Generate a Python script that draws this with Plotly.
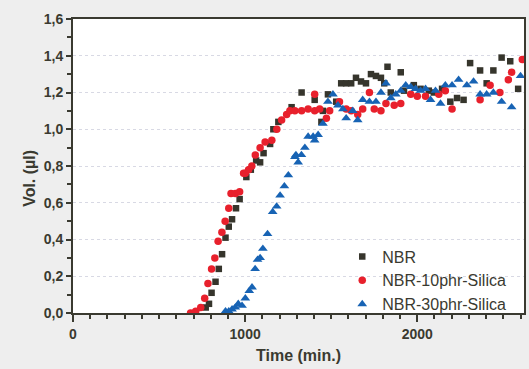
import plotly.graph_objects as go

# ---- data ----
nbr_t = [771, 790, 805, 828, 847, 866, 886, 905, 924, 947, 968, 1007, 1033, 1064, 1087, 1107, 1145,
         1164, 1193, 1270, 1328, 1404, 1443, 1452, 1481, 1529, 1558, 1587, 1616, 1644, 1673, 1702, 1731,
         1760, 1789, 1808, 1827, 1846, 1904, 1923, 1980, 2019, 2067, 2096, 2144, 2192, 2231, 2269, 2307,
         2365, 2403, 2442, 2490, 2540, 2586]
nbr_v = [0.03, 0.05, 0.11, 0.17, 0.24, 0.32, 0.41, 0.47, 0.51, 0.57, 0.62, 0.74, 0.78, 0.83, 0.82, 0.87, 0.92,
         1.00, 1.04, 1.12, 1.20, 1.16, 1.04, 1.10, 1.19, 1.15, 1.25, 1.25, 1.25, 1.28, 1.26, 1.25, 1.30,
         1.29, 1.28, 1.25, 1.34, 1.20, 1.31, 1.21, 1.24, 1.22, 1.21, 1.20, 1.22, 1.15, 1.17, 1.16, 1.36,
         1.32, 1.25, 1.32, 1.39, 1.37, 1.22]

r10_t = [683, 713, 742, 765, 784, 805, 824, 843, 865, 884, 905, 918, 943, 968, 991, 1001, 1020, 1039, 1059,
         1087, 1116, 1155, 1184, 1212, 1241, 1260, 1289, 1328, 1366, 1404, 1404, 1433, 1472, 1491, 1548,
         1587, 1616, 1654, 1683, 1722, 1750, 1789, 1818, 1866, 1904, 1962, 2000, 2048, 2125, 2163, 2202,
         2365, 2423, 2480, 2529, 2548, 2610]
r10_v = [0.00, 0.01, 0.03, 0.08, 0.16, 0.24, 0.30, 0.39, 0.44, 0.50, 0.57, 0.65, 0.65, 0.66, 0.76, 0.76, 0.78,
         0.80, 0.86, 0.90, 0.93, 0.94, 1.00, 1.05, 1.08, 1.10, 1.10, 1.10, 1.11, 1.10, 1.19, 1.11, 1.06, 1.10,
         1.15, 1.11, 1.10, 1.08, 1.11, 1.20, 1.11, 1.10, 1.14, 1.13, 1.14, 1.19, 1.18, 1.18, 1.19, 1.21, 1.11,
         1.16, 1.24, 1.20, 1.27, 1.31, 1.38]

r30_t = [886, 905, 924, 943, 960, 982, 1001, 1024, 1040, 1058, 1072, 1087, 1103, 1130, 1160, 1183, 1203,
         1228, 1251, 1289, 1295, 1308, 1327, 1347, 1366, 1395, 1404, 1424, 1452, 1481, 1510, 1539, 1568,
         1587, 1625, 1654, 1683, 1722, 1760, 1789, 1818, 1846, 1875, 1904, 1933, 1962, 1990, 2019, 2048,
         2077, 2106, 2135, 2163, 2202, 2240, 2288, 2327, 2365, 2403, 2442, 2490, 2548, 2600]
r30_v = [0.01, 0.01, 0.02, 0.03, 0.05, 0.04, 0.08, 0.12, 0.14, 0.24, 0.29, 0.30, 0.35, 0.43, 0.55, 0.58, 0.64,
         0.69, 0.75, 0.85, 0.86, 0.82, 0.86, 0.90, 0.96, 0.96, 0.94, 0.97, 1.03, 1.15, 1.19, 1.13, 1.11,
         1.06, 1.10, 1.05, 1.16, 1.15, 1.15, 1.20, 1.25, 1.17, 1.19, 1.21, 1.24, 1.23, 1.22, 1.21, 1.22,
         1.16, 1.21, 1.14, 1.24, 1.24, 1.27, 1.24, 1.26, 1.19, 1.19, 1.20, 1.15, 1.12, 1.29]

x_title = "Time (min.)"
y_title = "Vol. (µl)"

series = [
    ("NBR", nbr_t, nbr_v, "#36352c", "square", 6.5),
    ("NBR-10phr-Silica", r10_t, r10_v, "#e8202c", "circle", 7.5),
    ("NBR-30phr-Silica", r30_t, r30_v, "#1763b4", "triangle-up", 8.5),
]

fig = go.Figure()
for name, t, v, col, sym, sz in series:
    fig.add_trace(go.Scatter(x=t, y=v, mode="markers", name=name, cliponaxis=True,
                             marker=dict(color=col, symbol=sym, size=sz, line=dict(width=0))))

axcol = "#3a3a30"
tickfont = dict(size=14, family="Liberation Sans, Arial, sans-serif", weight="bold", color=axcol)
fig.update_layout(
    width=529, height=369,
    margin=dict(l=73, r=5, t=19, b=56, autoexpand=False),
    paper_bgcolor="#eeeeee", plot_bgcolor="white",
    separators=", ",
    font=dict(family="Liberation Sans, Arial, sans-serif", color=axcol),
    showlegend=True,
    legend=dict(x=0.597, y=0.25, xanchor="left", yanchor="top", bgcolor="rgba(0,0,0,0)",
                font=dict(size=16, color=axcol), tracegroupgap=0),
    xaxis=dict(range=[0, 2620], dtick=1000, tick0=0, showgrid=False, zeroline=False, automargin=False,
               showline=True, linecolor=axcol, linewidth=2, mirror=True,
               ticks="outside", ticklen=7, tickwidth=2, tickcolor=axcol,
               minor=dict(dtick=100, ticks="outside", ticklen=4, tickwidth=2, tickcolor=axcol),
               tickfont=tickfont),
    yaxis=dict(range=[0, 1.6], dtick=0.2, tick0=0, tickformat=".1f", automargin=False,
               showgrid=True, gridcolor="#d8d9e4", griddash="dot", gridwidth=1, zeroline=False,
               showline=True, linecolor=axcol, linewidth=2, mirror=True,
               ticks="outside", ticklen=5, tickwidth=2, tickcolor=axcol,
               minor=dict(dtick=0.1, ticks="outside", ticklen=4, tickwidth=2, tickcolor=axcol, showgrid=False),
               tickfont=tickfont),
    annotations=[
        dict(text="<b>%s</b>" % x_title, xref="paper", yref="paper", x=0.499, y=-0.143,
             showarrow=False, font=dict(size=16, color=axcol), xanchor="center", yanchor="middle"),
        dict(text="<b>%s</b>" % y_title, xref="paper", yref="paper", x=-0.098, y=0.459,
             showarrow=False, textangle=-90, font=dict(size=16, color=axcol),
             xanchor="center", yanchor="middle"),
    ],
)

fig.write_html("out.html", config={"displayModeBar": False},
               post_script="document.body.style.margin='0';document.body.style.overflow='hidden';")
